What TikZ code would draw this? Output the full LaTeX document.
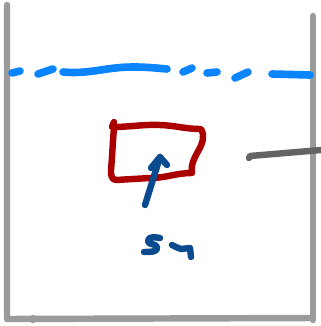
\documentclass[tikz,border=0pt]{standalone}
\usepackage{tikz}
\usetikzlibrary{arrows.meta}
\definecolor{paroi}{RGB}{155,155,155}
\definecolor{niveau}{RGB}{10,132,255}
\definecolor{objet}{RGB}{170,0,0}
\definecolor{fleche}{RGB}{10,74,143}
\definecolor{tige}{RGB}{100,100,100}

\begin{document}
\begin{tikzpicture}[x=0.03cm,y=-0.03cm,line cap=round,line join=round,
    trait/.style={line width=5.5pt}]
    % coordonnees en pixels, y vers le bas
    \useasboundingbox (0,0) rectangle (321,326);
    % recipient
    \draw[trait,paroi](7,5)--(7,319)--(313,318);
    \draw[trait,paroi](313,16)--(313,320);
    \draw[trait,paroi](33,318)--(33,320);
    % niveau du liquide
    \foreach \a/\b in {{(12,73)}/{(20,71)},{(38,74)}/{(53,69)},
                       {(183,72)}/{(192,68)},{(207,73)}/{(217,72)},
                       {(235,78)}/{(248,72)},{(272,74)}/{(310,75)}}{
      \draw[trait,niveau,line width=6.5pt]\a--\b;}
    \draw[trait,niveau,line width=6.5pt](63,72) to[out=-5,in=180](133,67) to[out=0,in=175](167,69);
    % objet immerge
    \draw[trait,objet](114,122)--(112,127) to[out=0,in=178](160,125)
      to[out=-2,in=180](201,129) to[out=-60,in=100](192,173)
      to[out=180,in=0](150,178)--(116,180) to[out=180,in=-95](111,170)
      to[out=85,in=-95](114,128);
    % force
    \draw[trait,fleche](145,205)--(160,157);
    \draw[trait,fleche](151,168)--(160,157)--(167,165);
    % etiquette
    \draw[trait,fleche](160,238) to[out=170,in=90](148,241)
      to[out=-90,in=110](157,247) to[out=-70,in=0](144,252);
    \draw[trait,fleche](172,245) to[out=-10,in=180](181,249)
      to[out=0,in=180](190,248)--(191,257);
    % support
    \draw[trait,tige](249,158)--(250,156)--(321,150);
  \end{tikzpicture}
\end{document}
